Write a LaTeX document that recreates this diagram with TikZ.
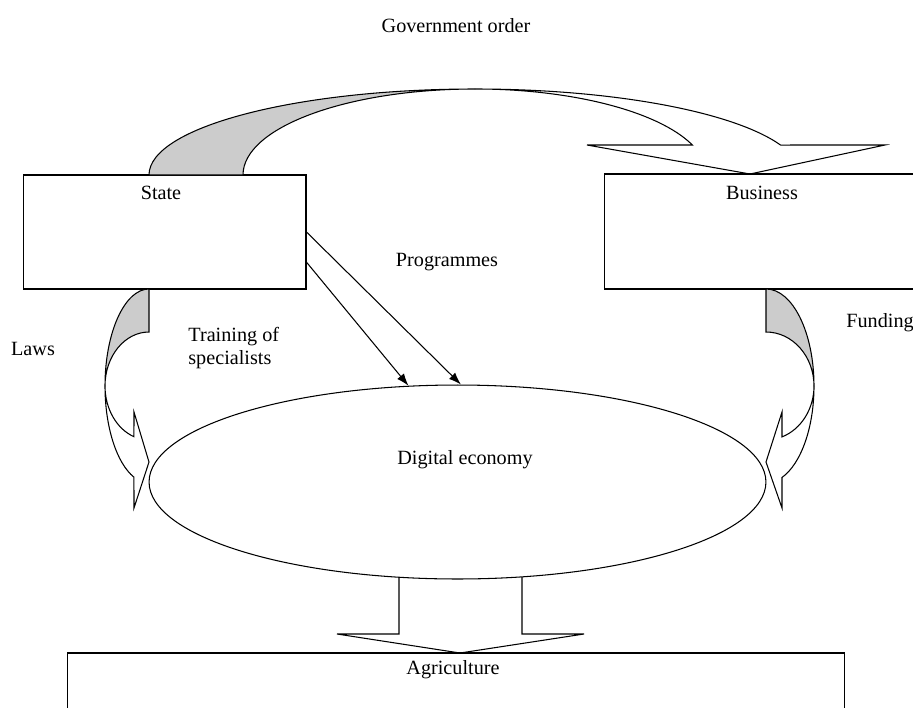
\documentclass[tikz,border=0pt]{standalone}
\usepackage{fontspec}
\setmainfont{Liberation Serif}
\usetikzlibrary{shapes.geometric,arrows.meta}

\tikzset{
  box/.style={draw, rectangle, inner sep=0pt},
  backpart/.style={draw, fill=gray!40},
  progarrow/.style={-{Latex[length=7pt,width=5pt]}},
}

\begin{document}
\begin{tikzpicture}[x=0.02cm, y=0.02cm, line width=0.6pt,
    font=\fontsize{11.5}{13.6}\selectfont]
    \useasboundingbox (0,-707) rectangle (913,0);

    % Title
    \node (order) at (456,-26) {Government order};

    % Boxes
    \node[box, minimum width=5.66cm, minimum height=2.28cm] (state) at (164.5,-232) {};
    \node (statetxt) at (161,-193) {State};
    \node[box, minimum width=6.72cm, minimum height=2.30cm] (business) at (772,-231.5) {};
    \node (businesstxt) at (762,-193) {Business};
    \node[box, minimum width=15.56cm, minimum height=2.14cm] (agri) at (456,-706.5) {};
    \node (agritxt) at (453,-670) {Agriculture};

    % Digital economy
    \node[draw, ellipse, minimum width=12.34cm, minimum height=3.88cm, inner sep=0pt] (digital) at (457.5,-482) {};
    \node (digitaltxt) at (465,-460) {Digital economy};

    % Government order arrow
    \draw[backpart] (149,-175) arc[start angle=180, end angle=90, x radius=326, y radius=86]
        arc[start angle=90, end angle=180, x radius=232, y radius=86] -- cycle;
    \draw (475,-89) arc[start angle=90, end angle=20.4, x radius=326, y radius=86]
        -- (885,-145) -- (750,-174) -- (587,-145) -- (692.4,-145)
        arc[start angle=20.4, end angle=90, x radius=232, y radius=86];

    % Laws arrow
    \draw[backpart] (149,-289) arc[start angle=90, end angle=180, x radius=44, y radius=97]
        arc[start angle=180, end angle=90, x radius=44, y radius=54] -- cycle;
    \draw (105,-386) arc[start angle=180, end angle=250, x radius=44, y radius=97]
        -- (134,-508) -- (149,-462) -- (134,-412) -- (133.95,-436.7)
        arc[start angle=250, end angle=180, x radius=44, y radius=54];

    % Funding arrow
    \draw[backpart] (766,-289) arc[start angle=90, end angle=0, x radius=48, y radius=97]
        arc[start angle=0, end angle=90, x radius=48, y radius=54] -- cycle;
    \draw (814,-386) arc[start angle=0, end angle=-70.53, x radius=48, y radius=97]
        -- (782,-508) -- (766,-462) -- (782,-412) -- (782,-436.9)
        arc[start angle=-70.53, end angle=0, x radius=48, y radius=54];

    % Arrow to agriculture
    \draw (399,-577) -- (399,-634) -- (337,-634) -- (460,-653)
        -- (584,-634) -- (522,-634) -- (522,-577);

    % Programmes
    \draw[progarrow] (state.east) -- (digital.88.5);
    \draw[progarrow] (state.-12) -- (digital.117.4);

    % Labels
    \node (programmes) at (447,-262) {Programmes};
    \node (laws) at (33,-349) {Laws};
    \node[anchor=west, align=left] (training) at (182,-348) {Training of\\specialists};
    \node[anchor=west] (funding) at (840,-323) {Funding};
\end{tikzpicture}
\end{document}
